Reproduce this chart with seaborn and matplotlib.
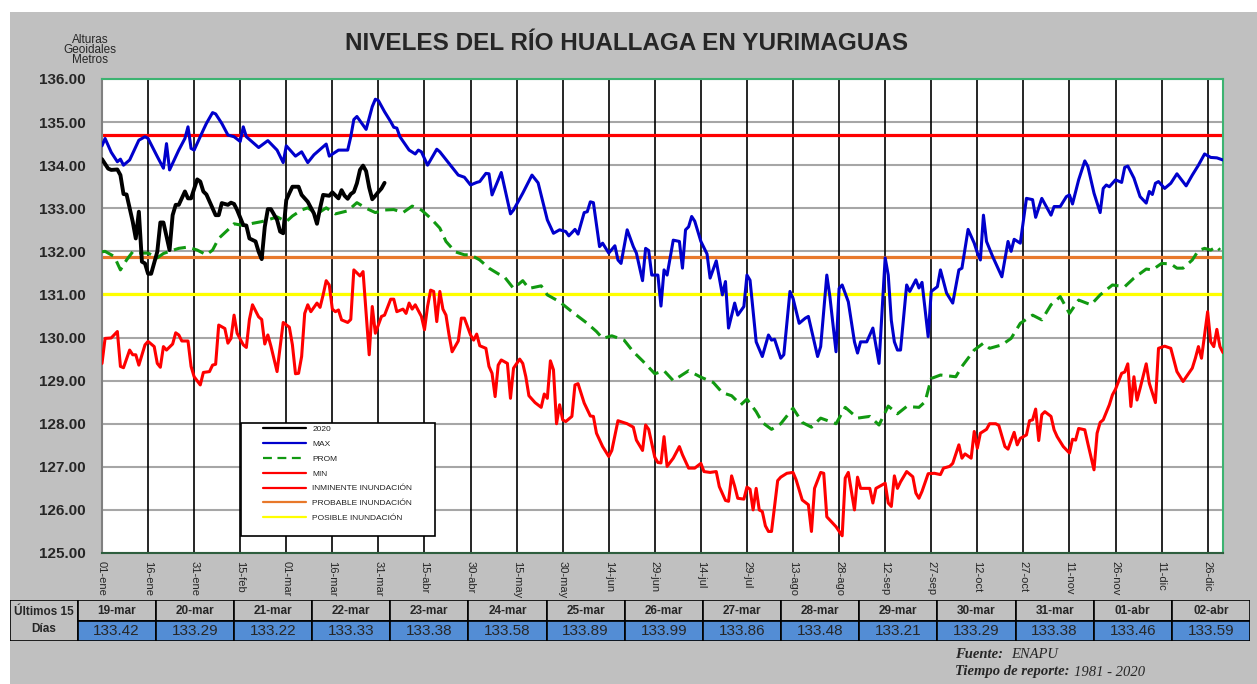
import numpy as np
import pandas as pd
import seaborn as sns
import matplotlib.pyplot as plt
from matplotlib.patches import Rectangle
from matplotlib.lines import Line2D

# Datos: (dia del año, cota en m)
serie_2020 = [
    (0, 134.14), (2, 133.92), (3, 133.89), (5, 133.90), (6, 133.77), (7, 133.33), (8, 133.32),
    (10, 132.69), (11, 132.30), (12, 132.92), (13, 131.76), (14, 131.72), (15, 131.48), (16, 131.48),
    (18, 131.99), (19, 132.67), (20, 132.67), (22, 132.03), (23, 132.84), (24, 133.08), (25, 133.08),
    (27, 133.39), (28, 133.23), (29, 133.23), (31, 133.67), (32, 133.62), (33, 133.39), (34, 133.32),
    (37, 132.84), (38, 132.84), (39, 133.12), (41, 133.08), (42, 133.13), (43, 133.10), (44, 132.96),
    (46, 132.61), (47, 132.60), (48, 132.30), (50, 132.23), (51, 131.99), (52, 131.82), (53, 132.57),
    (54, 132.98), (55, 132.98), (57, 132.73), (58, 132.46), (59, 132.42), (60, 133.19), (61, 133.35),
    (62, 133.50), (64, 133.50), (65, 133.31), (67, 133.15), (69, 132.88), (70, 132.64), (71, 133.00),
    (72, 133.31), (74, 133.29), (75, 133.37), (77, 133.23),
]

# ultimos 15 dias (tabla), empiezan el 19-mar = dia 78
dia_inicio_ultimos = 78
ultimos_fechas = ['19-mar', '20-mar', '21-mar', '22-mar', '23-mar', '24-mar', '25-mar', '26-mar',
                  '27-mar', '28-mar', '29-mar', '30-mar', '31-mar', '01-abr', '02-abr']
ultimos_vals = [133.42, 133.29, 133.22, 133.33, 133.38, 133.58, 133.89, 133.99,
                133.86, 133.48, 133.21, 133.29, 133.38, 133.46, 133.59]

serie_max = [
    (0, 134.45), (1, 134.62), (3, 134.30), (5, 134.08), (6, 134.14), (7, 134.00), (9, 134.12),
    (12, 134.58), (14, 134.66), (15, 134.62), (18, 134.20), (20, 133.93), (21, 134.50), (22, 133.89),
    (25, 134.35), (27, 134.62), (28, 134.89), (29, 134.39), (30, 134.35), (33, 134.82), (34, 134.97),
    (36, 135.22), (37, 135.19), (39, 134.97), (41, 134.70), (43, 134.66), (45, 134.55), (46, 134.89),
    (47, 134.66), (51, 134.41), (54, 134.57), (57, 134.35), (59, 134.06), (60, 134.45), (63, 134.21),
    (65, 134.31), (67, 134.06), (69, 134.24), (73, 134.49), (74, 134.21), (77, 134.35), (80, 134.35),
    (81, 134.66), (82, 135.06), (83, 135.13), (86, 134.83), (88, 135.36), (89, 135.53), (90, 135.50),
    (92, 135.24), (94, 135.01), (95, 134.88), (96, 134.86), (97, 134.66), (100, 134.35), (102, 134.26),
    (103, 134.35), (104, 134.31), (106, 134.00), (109, 134.37), (110, 134.31), (113, 134.04),
    (116, 133.77), (118, 133.72), (120, 133.54), (122, 133.60), (123, 133.62), (125, 133.81),
    (126, 133.80), (127, 133.31), (130, 133.83), (133, 132.87), (134, 132.96), (137, 133.35),
    (140, 133.77), (142, 133.59), (145, 132.73), (147, 132.42), (149, 132.50), (151, 132.46),
    (152, 132.36), (154, 132.51), (155, 132.40), (157, 132.90), (158, 132.92), (159, 133.15),
    (160, 133.13), (162, 132.11), (163, 132.19), (165, 131.96), (167, 132.13), (168, 131.80),
    (169, 131.72), (171, 132.50), (173, 132.11), (174, 131.96), (176, 131.32), (177, 132.07),
    (178, 132.02), (179, 131.45), (181, 131.45), (182, 130.73), (183, 131.57), (184, 131.45),
    (186, 132.26), (188, 132.23), (189, 131.61), (190, 132.50), (191, 132.57), (192, 132.81),
    (193, 132.70), (195, 132.23), (197, 131.94), (198, 131.38), (200, 131.78), (202, 130.99),
    (203, 131.30), (204, 130.22), (206, 130.80), (207, 130.52), (209, 130.72), (210, 131.45),
    (211, 131.33), (213, 129.90), (215, 129.56), (217, 130.06), (218, 129.94), (219, 129.96),
    (221, 129.52), (222, 129.60), (224, 131.07), (225, 130.91), (227, 130.33), (229, 130.45),
    (230, 130.49), (233, 129.56), (234, 129.79), (236, 131.45), (237, 130.95), (239, 129.67),
    (240, 131.14), (241, 131.22), (243, 130.83), (245, 129.90), (246, 129.64), (247, 129.90),
    (249, 129.90), (251, 130.22), (253, 129.40), (255, 131.85), (256, 131.45), (257, 130.40),
    (258, 129.90), (259, 129.71), (260, 129.71), (262, 131.22), (263, 131.07), (265, 131.34),
    (266, 131.15), (267, 131.28), (269, 130.02), (270, 131.07), (272, 131.18), (273, 131.57),
    (275, 131.03), (277, 130.80), (279, 131.57), (280, 131.61), (282, 132.51), (284, 132.19),
    (285, 131.97), (286, 131.80), (287, 132.84), (288, 132.23), (290, 131.88), (293, 131.41),
    (295, 132.23), (296, 132.00), (297, 132.28), (299, 132.19), (301, 133.23), (303, 133.20),
    (304, 132.79), (306, 133.23), (309, 132.84), (310, 133.04), (312, 133.04), (314, 133.27),
    (315, 133.31), (316, 133.10), (318, 133.66), (320, 134.10), (321, 133.97), (323, 133.35),
    (325, 132.90), (326, 133.46), (327, 133.54), (328, 133.50), (330, 133.66), (332, 133.60),
    (333, 133.95), (334, 133.98), (336, 133.70), (338, 133.27), (340, 133.12), (341, 133.39),
    (342, 133.32), (343, 133.58), (344, 133.62), (346, 133.46), (348, 133.58), (350, 133.80),
    (353, 133.52), (355, 133.77), (357, 134.00), (359, 134.26), (361, 134.18), (363, 134.17),
    (365, 134.12),
]

serie_prom = [
    (0, 131.99), (1, 132.00), (4, 131.88), (6, 131.57), (8, 131.80), (10, 131.99), (12, 131.96),
    (15, 131.96), (18, 131.85), (20, 131.95), (22, 132.00), (25, 132.07), (28, 132.10), (31, 132.03),
    (34, 131.92), (36, 132.03), (38, 132.30), (41, 132.50), (43, 132.64), (46, 132.60), (49, 132.65),
    (52, 132.69), (54, 132.73), (57, 132.80), (60, 132.69), (62, 132.82), (65, 132.96), (67, 133.01),
    (70, 132.87), (73, 133.01), (76, 132.87), (80, 132.94), (83, 133.13), (86, 133.00), (89, 132.90),
    (92, 132.96), (95, 132.97), (98, 132.90), (101, 133.05), (104, 132.96), (107, 132.77),
    (110, 132.54), (112, 132.23), (115, 131.99), (118, 131.92), (120, 131.92), (123, 131.80),
    (126, 131.61), (129, 131.48), (131, 131.41), (134, 131.14), (137, 131.32), (139, 131.14),
    (143, 131.20), (145, 130.99), (149, 130.83), (153, 130.60), (158, 130.33), (161, 130.14),
    (163, 129.98), (166, 130.04), (170, 129.94), (173, 129.67), (176, 129.46), (180, 129.16),
    (183, 129.23), (186, 129.00), (191, 129.23), (195, 129.08), (199, 128.96), (202, 128.72),
    (205, 128.65), (208, 128.44), (210, 128.57), (213, 128.28), (215, 128.03), (218, 127.87),
    (221, 128.00), (225, 128.36), (228, 128.03), (231, 127.92), (234, 128.13), (239, 128.00),
    (242, 128.38), (246, 128.13), (250, 128.17), (253, 127.97), (256, 128.41), (259, 128.23),
    (262, 128.40), (266, 128.38), (268, 128.51), (270, 129.05), (273, 129.13), (278, 129.09),
    (280, 129.33), (284, 129.71), (287, 129.87), (289, 129.75), (293, 129.83), (296, 129.98),
    (299, 130.33), (303, 130.52), (306, 130.41), (309, 130.76), (312, 130.95), (315, 130.56),
    (318, 130.87), (322, 130.76), (325, 130.99), (329, 131.22), (333, 131.18), (336, 131.38),
    (340, 131.59), (342, 131.57), (345, 131.72), (348, 131.71), (350, 131.61), (352, 131.61),
    (355, 131.80), (357, 132.02), (359, 132.07), (361, 132.03), (363, 132.11), (364, 132.03),
]

serie_min = [
    (0, 129.40), (1, 129.98), (3, 129.99), (5, 130.14), (6, 129.33), (7, 129.30), (9, 129.71),
    (10, 129.60), (11, 129.60), (12, 129.36), (14, 129.83), (15, 129.91), (17, 129.79), (18, 129.40),
    (19, 129.31), (20, 129.79), (21, 129.71), (23, 129.85), (24, 130.11), (25, 130.06), (26, 129.92),
    (28, 129.92), (29, 129.33), (30, 129.09), (32, 128.90), (33, 129.19), (35, 129.21), (36, 129.36),
    (37, 129.38), (38, 130.29), (40, 130.21), (41, 129.87), (42, 129.98), (43, 130.52), (44, 130.10),
    (46, 129.83), (47, 129.77), (48, 130.42), (49, 130.76), (51, 130.48), (52, 130.42), (53, 129.85),
    (54, 130.06), (55, 129.80), (56, 129.50), (57, 129.21), (59, 130.35), (61, 130.24), (62, 129.83),
    (63, 129.16), (64, 129.17), (65, 129.56), (66, 130.56), (67, 130.76), (68, 130.60), (70, 130.80),
    (71, 130.70), (72, 130.99), (73, 131.32), (74, 131.22), (75, 130.66), (76, 130.60), (77, 130.64),
    (78, 130.41), (80, 130.35), (81, 130.42), (82, 131.57), (84, 131.43), (85, 131.53), (87, 129.60),
    (88, 130.72), (89, 130.10), (91, 130.49), (92, 130.52), (94, 130.89), (95, 130.89), (96, 130.60),
    (98, 130.66), (99, 130.56), (100, 130.80), (101, 130.66), (102, 130.76), (104, 130.49),
    (105, 130.18), (106, 130.72), (107, 131.10), (108, 131.07), (109, 130.37), (110, 131.07),
    (111, 130.66), (112, 130.52), (113, 130.06), (114, 129.67), (116, 129.92), (117, 130.45),
    (118, 130.45), (120, 130.06), (121, 129.94), (122, 130.08), (123, 129.81), (125, 129.75),
    (126, 129.33), (127, 129.17), (128, 128.63), (129, 129.36), (130, 129.48), (132, 129.40),
    (133, 128.59), (134, 129.29), (136, 129.50), (137, 129.40), (138, 129.09), (139, 128.65),
    (141, 128.49), (143, 128.38), (144, 128.69), (145, 128.59), (146, 129.46), (147, 129.25),
    (148, 128.00), (149, 128.44), (150, 128.09), (151, 128.05), (153, 128.17), (154, 128.90),
    (155, 128.93), (157, 128.48), (159, 128.18), (160, 128.17), (161, 127.78), (163, 127.47),
    (165, 127.24), (166, 127.38), (168, 128.07), (171, 128.00), (173, 127.92), (174, 127.62),
    (176, 127.38), (177, 127.97), (178, 127.87), (180, 127.22), (181, 127.10), (182, 127.09),
    (183, 127.70), (184, 127.01), (186, 127.20), (188, 127.47), (189, 127.28), (191, 126.97),
    (193, 126.97), (195, 127.08), (196, 126.89), (198, 126.87), (200, 126.89), (201, 126.54),
    (203, 126.22), (204, 126.20), (205, 126.79), (206, 126.55), (207, 126.27), (209, 126.25),
    (210, 126.53), (211, 126.48), (212, 126.00), (213, 126.50), (214, 126.00), (215, 125.96),
    (216, 125.63), (217, 125.50), (218, 125.50), (220, 126.68), (221, 126.76), (223, 126.85),
    (225, 126.87), (226, 126.70), (228, 126.23), (230, 126.12), (231, 125.50), (232, 126.50),
    (234, 126.87), (235, 126.85), (236, 125.84), (239, 125.61), (241, 125.40), (242, 126.74),
    (243, 126.87), (245, 126.00), (246, 126.76), (247, 126.50), (250, 126.50), (251, 126.16),
    (252, 126.50), (254, 126.58), (255, 126.62), (256, 126.16), (257, 126.08), (258, 126.79),
    (259, 126.50), (260, 126.65), (262, 126.89), (264, 126.77), (265, 126.39), (266, 126.27),
    (267, 126.43), (269, 126.84), (271, 126.85), (273, 126.82), (274, 126.97), (276, 127.01),
    (277, 127.08), (279, 127.51), (280, 127.20), (281, 127.30), (283, 127.20), (284, 127.82),
    (285, 127.43), (286, 127.78), (288, 127.87), (289, 128.00), (291, 128.00), (292, 127.96),
    (294, 127.47), (295, 127.41), (297, 127.80), (298, 127.51), (299, 127.66), (301, 127.74),
    (302, 128.07), (303, 128.09), (304, 128.34), (305, 127.61), (306, 128.21), (307, 128.28),
    (309, 128.17), (310, 127.86), (311, 127.70), (313, 127.47), (315, 127.32), (316, 127.64),
    (317, 127.62), (318, 127.89), (320, 127.86), (321, 127.54), (323, 126.93), (324, 127.78),
    (325, 128.03), (326, 128.09), (328, 128.44), (329, 128.67), (330, 128.80), (332, 129.17),
    (333, 129.20), (334, 129.39), (335, 128.40), (336, 129.09), (337, 128.55), (338, 128.82),
    (340, 129.39), (341, 128.94), (343, 128.49), (344, 129.75), (346, 129.80), (348, 129.75),
    (350, 129.21), (352, 128.98), (355, 129.29), (356, 129.52), (357, 129.79), (358, 129.52),
    (360, 130.60), (361, 129.90), (362, 129.79), (363, 130.19), (364, 129.79), (365, 129.65),
]

# cotas de alerta
cota_inminente = 134.70
cota_probable = 131.87
cota_posible = 131.00

xtick_labels = ['01-ene', '16-ene', '31-ene', '15-feb', '01-mar', '16-mar', '31-mar', '15-abr',
                '30-abr', '15-may', '30-may', '14-jun', '29-jun', '14-jul', '29-jul', '13-ago',
                '28-ago', '12-sep', '27-sep', '12-oct', '27-oct', '11-nov', '26-nov', '11-dic',
                '26-dic']

GRIS = '#c0c0c0'
W, H = 1257, 684

sns.set_style('white')
plt.rcParams['font.family'] = ['Liberation Sans', 'DejaVu Sans']

fig = plt.figure(figsize=(W / 100, H / 100), dpi=100)
fig.patches.append(Rectangle((10 / W, 0), 1, 1 - 12 / H, transform=fig.transFigure,
                             facecolor=GRIS, edgecolor='none', zorder=-10))

ax = fig.add_axes([102 / W, 1 - 553 / H, 1121 / W, 474 / H])
ax.set_facecolor('white')


def dibujar(pts, **kw):
    d = pd.DataFrame(pts, columns=['dia', 'cota'])
    sns.lineplot(data=d, x='dia', y='cota', ax=ax, estimator=None, sort=False, **kw)


# lineas de alerta
ax.axhline(cota_inminente, color='#ff0000', lw=2.3, zorder=2)
ax.axhline(cota_probable, color='#e8782a', lw=2.3, zorder=2)
ax.axhline(cota_posible, color='#ffff00', lw=2.3, zorder=2)

dibujar(serie_min, color='#ff0000', lw=2.2, zorder=3)
dibujar(serie_prom, color='#119911', lw=2.2, linestyle=(0, (4, 2.2)), zorder=3)
dibujar(serie_max, color='#0000cc', lw=2.2, zorder=3)

# 2020 completo = lecturas + ultimos 15 dias
serie_2020_full = serie_2020 + [(dia_inicio_ultimos + i, v) for i, v in enumerate(ultimos_vals)]
dibujar(serie_2020_full, color='black', lw=2.8, zorder=4)

ax.set_xlim(0, 365)
ax.set_ylim(125, 136)
ax.set_xticks(np.arange(0, 361, 15))
ax.set_xticklabels(xtick_labels, rotation=-90, fontsize=8)
yt = np.arange(125, 136.01, 1)
ax.set_yticks(yt)
ax.set_yticklabels([f'{v:.2f}' for v in yt], fontsize=11, fontweight='bold')
ax.tick_params(axis='y', direction='out', length=5, width=1, color='#808080', pad=7)
ax.tick_params(axis='x', direction='out', length=4, width=1, color='#404040', pad=2)
ax.set_xlabel('')
ax.set_ylabel('')

for v in yt:
    ax.axhline(v, color='#a6a6a6', lw=1.5, zorder=1)
for x in np.arange(0, 361, 15):
    ax.axvline(x, color='black', lw=1.2, zorder=1)

for s in ['top', 'right']:
    ax.spines[s].set_color('#3cb371')
ax.spines['left'].set_color('#808080')
ax.spines['bottom'].set_color('#2e5e3e')
for s in ax.spines.values():
    s.set_linewidth(1.5)

# leyenda con marco propio
ax.add_patch(Rectangle((0.124, 0.036), 0.173, 0.238, transform=ax.transAxes,
                       facecolor='white', edgecolor='black', lw=1.2, zorder=6))
handles = [
    Line2D([], [], color='black', lw=1.6),
    Line2D([], [], color='#0000cc', lw=1.6),
    Line2D([], [], color='#119911', lw=1.6, linestyle=(0, (4, 2.5))),
    Line2D([], [], color='#ff0000', lw=1.6),
    Line2D([], [], color='#ff0000', lw=1.6),
    Line2D([], [], color='#e8782a', lw=1.6),
    Line2D([], [], color='#ffff00', lw=1.6),
]
labels = ['2020', 'MAX', 'PROM', 'MIN', 'INMINENTE INUNDACIÓN', 'PROBABLE INUNDACIÓN',
          'POSIBLE INUNDACIÓN']
leg = ax.legend(handles, labels, loc='upper left', bbox_to_anchor=((263 - 102) / 1121, (553 - 425) / 474),
                frameon=False, fontsize=6, borderpad=0, borderaxespad=0, handlelength=5.2,
                handletextpad=0.7, labelspacing=0.85)
leg.set_zorder(7)
for t in leg.get_texts():
    t.set_color('#222222')

# titulos
fig.text(627 / W, 1 - 44 / H, 'NIVELES DEL RÍO HUALLAGA EN YURIMAGUAS', ha='center', va='center',
         fontsize=17.5, fontweight='bold')
fig.text(90 / W, 1 - 50 / H, 'Alturas\nGeoidales\nMetros', ha='center', va='center',
         fontsize=8.5, linespacing=0.78)

# tabla de ultimos 15 dias
tab = fig.add_axes([10 / W, 1 - 641 / H, 1240 / W, 41 / H])
tab.set_xlim(0, 1240)
tab.set_ylim(0, 41)
tab.axis('off')
c0 = 67.5
cw = (1240 - c0) / len(ultimos_fechas)
tab.add_patch(Rectangle((0, 0), c0, 41, facecolor=GRIS, edgecolor='black', lw=1.2))
tab.text(c0 / 2, 20.5, 'Últimos 15\nDías', ha='center', va='center', fontsize=8.5,
         fontweight='bold', linespacing=1.5)
for i, (f, v) in enumerate(zip(ultimos_fechas, ultimos_vals)):
    x0 = c0 + i * cw
    tab.add_patch(Rectangle((x0, 20.5), cw, 20.5, facecolor=GRIS, edgecolor='black', lw=1.2))
    tab.add_patch(Rectangle((x0, 0), cw, 20.5, facecolor='#538dd5', edgecolor='black', lw=1.2))
    tab.text(x0 + cw / 2, 30.5, f, ha='center', va='center', fontsize=8.5, fontweight='bold')
    tab.text(x0 + cw / 2, 10, f'{v:.2f}', ha='center', va='center', fontsize=11)

# fuente
serif = ['Liberation Serif', 'DejaVu Serif']
fig.text(955 / W, 1 - 655 / H, 'Fuente:', family=serif, style='italic', fontweight='bold',
         fontsize=10.5, va='center')
fig.text(1011 / W, 1 - 655 / H, 'ENAPU', family=serif, style='italic', fontsize=10.5, va='center')
fig.text(955 / W, 1 - 672 / H, 'Tiempo de reporte:', family=serif, style='italic',
         fontweight='bold', fontsize=10.5, va='center')
fig.text(1074 / W, 1 - 672 / H, '1981 - 2020', family=serif, style='italic', fontsize=10.5,
         va='center')

fig.savefig('out.png', dpi=100, facecolor='white')
